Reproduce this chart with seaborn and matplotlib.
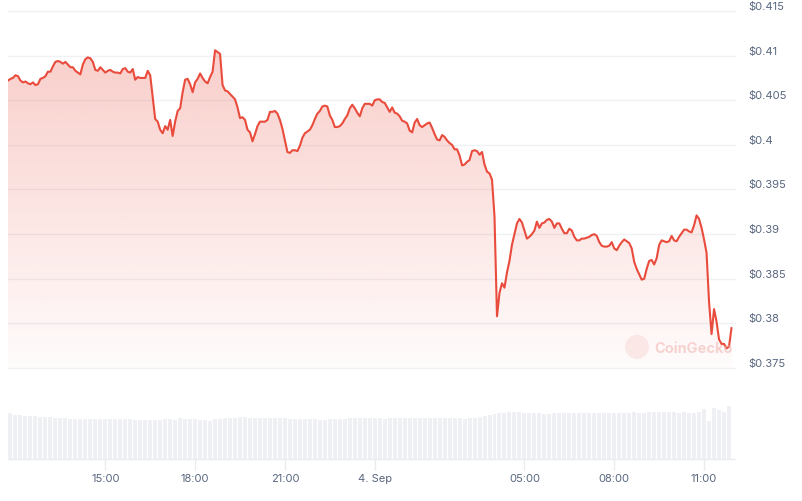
import numpy as np
import pandas as pd
import matplotlib
matplotlib.use("Agg")
import matplotlib.pyplot as plt
import matplotlib.dates as mdates
import matplotlib.transforms as mtransforms
from matplotlib.patches import Circle
import seaborn as sns

# ---------------- data ----------------
start_time = "2024-09-03 11:45"
step_minutes = 5

price = [
    0.4072, 0.4074, 0.4075, 0.4078, 0.4077, 0.4072, 0.4070, 0.4071, 0.4069, 0.4068,
    0.4070, 0.4067, 0.4068, 0.4074, 0.4075, 0.4077, 0.4082, 0.4082, 0.4088, 0.4093,
    0.4094, 0.4093, 0.4091, 0.4093, 0.4090, 0.4087, 0.4087, 0.4083, 0.4081, 0.4079,
    0.4090, 0.4096, 0.4098, 0.4097, 0.4093, 0.4084, 0.4083, 0.4087, 0.4084, 0.4081,
    0.4083, 0.4084, 0.4082, 0.4081, 0.4081, 0.4080, 0.4085, 0.4086, 0.4082, 0.4081,
    0.4085, 0.4073, 0.4076, 0.4075, 0.4075, 0.4075, 0.4083, 0.4078, 0.4053, 0.4029,
    0.4026, 0.4017, 0.4013, 0.4021, 0.4017, 0.4028, 0.4010, 0.4026, 0.4038, 0.4041,
    0.4059, 0.4073, 0.4074, 0.4068, 0.4059, 0.4070, 0.4074, 0.4080, 0.4075, 0.4071,
    0.4069, 0.4076, 0.4082, 0.4106, 0.4104, 0.4102, 0.4067, 0.4061, 0.4060, 0.4057,
    0.4054, 0.4051, 0.4042, 0.4030, 0.4031, 0.4028, 0.4017, 0.4014, 0.4004, 0.4012,
    0.4021, 0.4026, 0.4026, 0.4026, 0.4028, 0.4037, 0.4037, 0.4038, 0.4035, 0.4028,
    0.4018, 0.4005, 0.3992, 0.3991, 0.3994, 0.3994, 0.3993, 0.3999, 0.4008, 0.4013,
    0.4015, 0.4017, 0.4022, 0.4029, 0.4035, 0.4038, 0.4043, 0.4044, 0.4043, 0.4033,
    0.4028, 0.4020, 0.4020, 0.4021, 0.4024, 0.4029, 0.4033, 0.4041, 0.4045, 0.4041,
    0.4036, 0.4032, 0.4041, 0.4046, 0.4046, 0.4046, 0.4044, 0.4050, 0.4051, 0.4051,
    0.4048, 0.4047, 0.4042, 0.4037, 0.4042, 0.4036, 0.4035, 0.4032, 0.4027, 0.4026,
    0.4024, 0.4016, 0.4014, 0.4025, 0.4029, 0.4022, 0.4020, 0.4022, 0.4024, 0.4025,
    0.4019, 0.4012, 0.4006, 0.4005, 0.4011, 0.4009, 0.4005, 0.4002, 0.4000, 0.3995,
    0.3995, 0.3988, 0.3977, 0.3978, 0.3981, 0.3983, 0.3993, 0.3994, 0.3993, 0.3989,
    0.3992, 0.3978, 0.3970, 0.3968, 0.3961, 0.3920, 0.3808, 0.3834, 0.3845, 0.3840,
    0.3857, 0.3870, 0.3888, 0.3900, 0.3912, 0.3917, 0.3913, 0.3904, 0.3895, 0.3897,
    0.3900, 0.3904, 0.3914, 0.3907, 0.3912, 0.3913, 0.3916, 0.3917, 0.3914, 0.3907,
    0.3912, 0.3912, 0.3906, 0.3901, 0.3901, 0.3906, 0.3904, 0.3897, 0.3893, 0.3893,
    0.3895, 0.3895, 0.3896, 0.3897, 0.3899, 0.3900, 0.3898, 0.3891, 0.3887, 0.3886,
    0.3886, 0.3887, 0.3891, 0.3884, 0.3882, 0.3887, 0.3891, 0.3894, 0.3892, 0.3890,
    0.3884, 0.3869, 0.3861, 0.3855, 0.3849, 0.3850, 0.3861, 0.3870, 0.3871, 0.3866,
    0.3873, 0.3888, 0.3893, 0.3892, 0.3891, 0.3892, 0.3898, 0.3893, 0.3892, 0.3897,
    0.3901, 0.3905, 0.3905, 0.3903, 0.3902, 0.3910, 0.3921, 0.3917, 0.3907, 0.3894,
    0.3879, 0.3824, 0.3788, 0.3816, 0.3802, 0.3782, 0.3777, 0.3777, 0.3772, 0.3774,
    0.3795,
]

# relative trading volume per 10-minute bucket (arbitrary units)
volume_step_minutes = 10
volume = [
    46.0, 44.3, 44.3, 43.5, 43.3, 43.3, 42.3, 42.3, 42.0, 41.3,
    41.3, 41.3, 40.3, 40.3, 40.3, 40.3, 40.3, 40.5, 40.5, 40.3,
    40.3, 40.3, 40.3, 40.3, 40.3, 39.3, 39.3, 39.3, 39.3, 39.3,
    39.3, 40.3, 40.3, 39.5, 41.0, 40.3, 40.3, 40.0, 39.3, 39.3,
    38.3, 40.3, 40.3, 41.0, 41.3, 41.0, 42.3, 42.3, 41.3, 41.3,
    41.3, 41.3, 41.3, 41.3, 41.3, 41.3, 40.3, 40.3, 40.3, 40.3,
    40.3, 40.3, 39.3, 39.3, 40.3, 40.3, 40.3, 40.3, 41.3, 41.3,
    41.3, 41.3, 41.3, 41.0, 41.3, 40.3, 40.8, 41.3, 41.3, 41.3,
    41.3, 41.3, 41.3, 41.3, 41.3, 41.3, 41.3, 41.3, 41.3, 41.3,
    41.0, 40.3, 41.3, 41.3, 42.3, 43.0, 44.0, 45.3, 46.5, 46.3,
    47.3, 47.3, 47.3, 46.3, 46.3, 46.3, 46.3, 45.3, 45.3, 46.0,
    46.3, 46.0, 46.3, 46.3, 46.0, 46.3, 46.3, 46.3, 46.3, 46.3,
    46.3, 46.3, 46.3, 46.3, 46.3, 47.3, 46.3, 46.3, 47.3, 47.3,
    47.3, 47.3, 47.3, 47.3, 46.3, 47.3, 46.0, 46.3, 47.3, 50.0,
    38.3, 51.0, 49.0, 47.3, 53.3,
]

price_ticks = [0.375, 0.38, 0.385, 0.39, 0.395, 0.40, 0.405, 0.41, 0.415]
price_tick_labels = ["$0.375", "$0.38", "$0.385", "$0.39", "$0.395",
                     "$0.4", "$0.405", "$0.41", "$0.415"]
time_ticks = ["2024-09-03 15:00", "2024-09-03 18:00", "2024-09-03 21:00",
              "2024-09-04 00:00", "2024-09-04 05:00", "2024-09-04 08:00",
              "2024-09-04 11:00"]
time_tick_labels = ["15:00", "18:00", "21:00", "4. Sep", "05:00", "08:00", "11:00"]
watermark = "CoinGecko"

# ---------------- style ----------------
sns.set_theme(style="white")
plt.rcParams["font.family"] = ["Inter", "DejaVu Sans"]

RED = "#e94b3c"
GRID = "#eff1f4"
VOLC = "#eff0f4"
TXT = "#58667e"

W, H = 803, 502
fig = plt.figure(figsize=(W / 100, H / 100), dpi=100)
fig.patch.set_facecolor("white")

times = pd.date_range(start_time, periods=len(price), freq=f"{step_minutes}min")
df = pd.DataFrame({"time": times, "price": price})
vol_times = pd.date_range(pd.Timestamp(start_time) + pd.Timedelta(minutes=volume_step_minutes / 2),
                          periods=len(volume), freq=f"{volume_step_minutes}min")
dfv = pd.DataFrame({"time": vol_times, "volume": volume})

x0 = pd.Timestamp(start_time)
x1 = x0 + pd.Timedelta(minutes=1457)

# price panel
ax = fig.add_axes([8 / W, (H - 369) / H, (735 - 8) / W, (369 - 12) / H])
ymin, ymax = price_ticks[0], price_ticks[-1]

for t in price_ticks:
    ax.axhline(t, color=GRID, lw=1.0, zorder=0, clip_on=False)

poly = ax.fill_between(df["time"], df["price"], ymin, color="none", lw=0)
n = 256
alpha = np.linspace(0.30, 0.02, n).reshape(-1, 1)
rgb = np.array(matplotlib.colors.to_rgb(RED))
img = np.ones((n, 1, 4))
img[:, :, :3] = rgb
img[:, :, 3] = alpha
im = ax.imshow(img, extent=[mdates.date2num(x0), mdates.date2num(x1), ymin, ymax],
               aspect="auto", origin="upper", zorder=1, interpolation="bilinear")
im.set_clip_path(poly.get_paths()[0], ax.transData)

sns.lineplot(data=df, x="time", y="price", ax=ax, color=RED, linewidth=1.5, zorder=3)
ax.set_xlim(x0, x1)
ax.set_ylim(ymin, ymax)
ax.axis("off")

lab_tr = mtransforms.offset_copy(ax.get_yaxis_transform(), fig=fig, x=0, y=5, units="dots")
for t, lab in zip(price_ticks, price_tick_labels):
    ax.text((748 - 8) / (735 - 8), t, lab, transform=lab_tr, ha="left", va="center",
            fontsize=8, color=TXT, clip_on=False)

# volume panel
axv = fig.add_axes([8 / W, (H - 460) / H, (735 - 8) / W, 60 / H])
axv.bar(dfv["time"], dfv["volume"], width=8 / 1440, color=VOLC, align="center", lw=0)
axv.set_xlim(x0, x1)
axv.set_ylim(0, 60)
for s in ["top", "left", "right"]:
    axv.spines[s].set_visible(False)
axv.spines["bottom"].set_color("#e9ebef")
axv.spines["bottom"].set_linewidth(1.0)
axv.set_yticks([])
axv.set_xticks(pd.to_datetime(time_ticks))
axv.set_xticklabels(time_tick_labels)
axv.tick_params(axis="x", length=8, width=1.0, color="#e9ebef", pad=2,
                labelsize=8, labelcolor=TXT, bottom=True)
axv.set_facecolor("none")
axv.set_xlabel("")
axv.set_ylabel("")

# watermark
fig.add_artist(Circle((637, H - 348), 12, transform=mtransforms.IdentityTransform(),
                      facecolor="#f3c9c6", edgecolor="none", alpha=0.35))
fig.text(654 / W, 1 - 349 / H, watermark, fontsize=10.5, fontweight="bold",
         color="#f0b2ae", alpha=0.55, ha="left", va="center")

fig.savefig("out.png", dpi=100, facecolor="white")
